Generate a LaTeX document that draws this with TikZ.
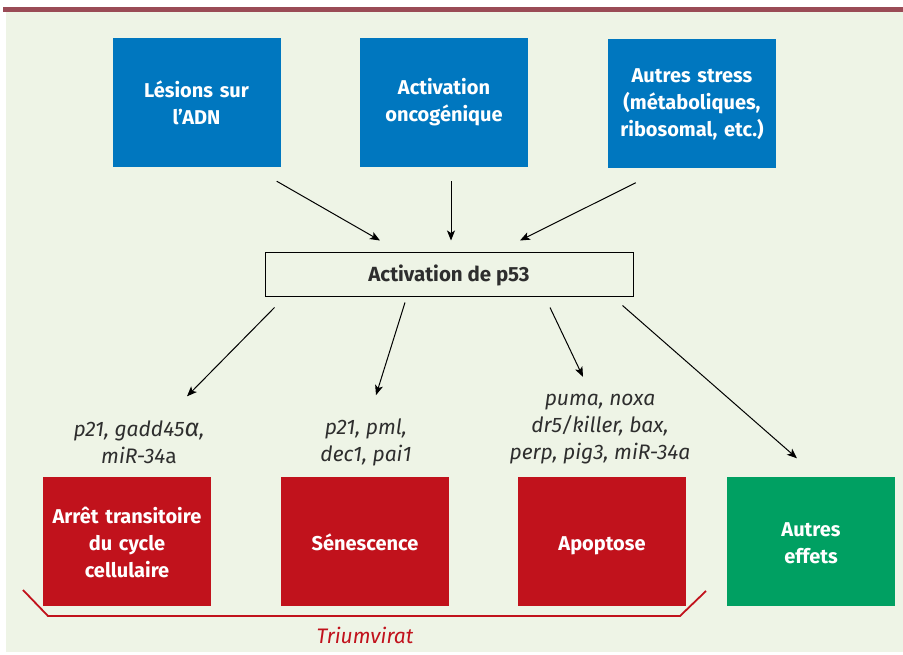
\documentclass[tikz,border=0pt]{standalone}
\usepackage{fontspec}
\setmainfont{Fira Sans}
\usetikzlibrary{arrows.meta,calc}
\definecolor{bgc}{HTML}{EEF4E6}
\definecolor{topbar}{HTML}{9A4B56}
\definecolor{blu}{HTML}{0077BF}
\definecolor{rd}{HTML}{C1121C}
\definecolor{grn}{HTML}{00A062}
\definecolor{txt}{HTML}{2E2E2E}
\newcommand{\topstrut}{\rule{0pt}{27pt}}
\begin{document}
\begin{tikzpicture}[x=1pt,y=-1pt,
  box/.style={minimum width=168pt,minimum height=129pt,inner sep=0pt,text width=166pt,align=center,
    font=\bfseries\fontsize{20}{27}\selectfont,text=white},
  bluebox/.style={box,fill=blu},
  redbox/.style={box,fill=rd},
  greenbox/.style={box,fill=grn},
  genes/.style={align=center,font=\itshape\fontsize{21}{27}\selectfont,text=txt,inner sep=0pt},
  arr/.style={line width=1pt,-{Stealth[length=10pt,width=8pt,inset=2.5pt]}}
]
\useasboundingbox (0,0) rectangle (903,655);
\fill[white] (0,0) rectangle (903,655);
\fill[bgc] (6,12) rectangle (903,652);
\fill[topbar] (3,7) rectangle (903,12);

\node[bluebox] (les) at (196.5,102.5) {Lésions sur\\l’ADN};
\node[bluebox] (onc) at (444,102.5) {Activation\\oncogénique};
\node[bluebox] (aut) at (692,104) {Autres stress\\(métaboliques,\\ribosomal, etc.)};

\node[draw=black,line width=1pt,fill=bgc,minimum width=368pt,minimum height=44pt,inner sep=0pt,
  font=\bfseries\fontsize{20.5}{22}\selectfont,text=txt] (p53) at (449,275) {Activation de p53};

\node[redbox] (arret) at (127,541) {\topstrut Arrêt transitoire\\du cycle\\cellulaire\strut};
\node[redbox] (sen) at (365,541) {\topstrut Sénescence\strut};
\node[redbox] (apo) at (602,541) {\topstrut Apoptose\strut};
\node[greenbox] (eff) at (811,541) {\topstrut Autres\\effets\strut};

\node[genes] (g1) at (139,442) {p21, gadd45{\fontsize{25}{27}\selectfont α},\\miR-34{\upshape a}};
\node[genes] (g2) at (366,442) {p21, pml,\\dec1, pai1};
\node[genes] (g3) at (600,429) {puma, noxa\\dr5/killer, bax,\\perp, pig3, miR-34a};

% connectors
\coordinate (a1s) at ($(les.south east)+(-4,14)$);
\coordinate (a1e) at ($(p53.north)+(-69,-12)$);
\coordinate (a2s) at ($(onc.south)+(7,14)$);
\coordinate (a2e) at ($(p53.north)+(2,-12)$);
\coordinate (a3s) at ($(aut.south west)+(28,14)$);
\coordinate (a3e) at ($(p53.north)+(71,-12)$);
\draw[arr] (a1s) -- (a1e);
\draw[arr] (a2s) -- (a2e);
\draw[arr] (a3s) -- (a3e);

\coordinate (b1s) at ($(p53.south west)+(10,10)$);
\coordinate (b1e) at ($(g1.north)+(48,-24)$);
\coordinate (b2s) at ($(p53.south)+(-44,5)$);
\coordinate (b2e) at ($(g2.north)+(10,-23)$);
\coordinate (b3s) at ($(p53.south)+(101,10)$);
\coordinate (b3e) at ($(g3.north)+(-17,-17)$);
\coordinate (b4s) at ($(p53.south east)+(-11,8)$);
\coordinate (b4e) at ($(eff.north)+(-14,-18)$);
\draw[arr] (b1s) -- (b1e);
\draw[arr] (b2s) -- (b2e);
\draw[arr] (b3s) -- (b3e);
\draw[arr] (b4s) -- (b4e);

% triumvirat bracket
\coordinate (t1) at (23,590);
\coordinate (t2) at (48,616);
\coordinate (t3) at (680,616);
\coordinate (t4) at (706,591);
\draw[rd,line width=1.8pt] (t1) -- (t2) -- (t3) -- (t4);
\node[font=\itshape\fontsize{21}{22}\selectfont,text=rd,inner sep=0pt] (tri) at (365,635) {Triumvirat};
\end{tikzpicture}
\end{document}
